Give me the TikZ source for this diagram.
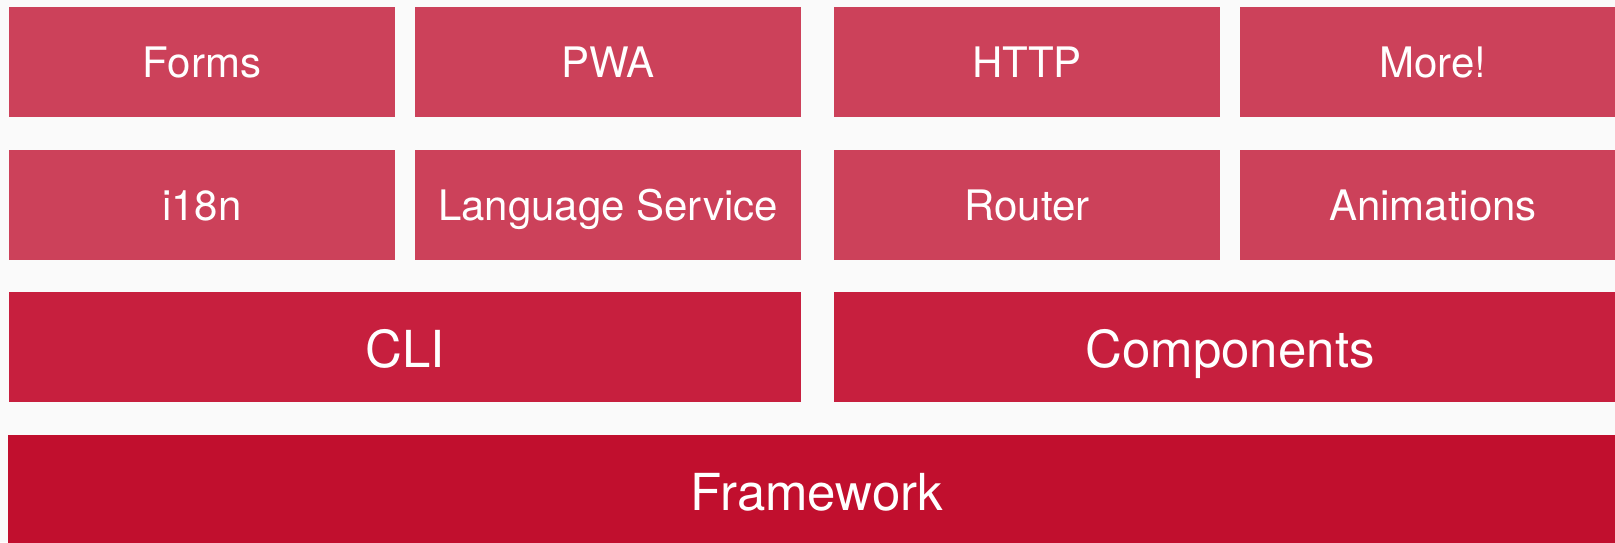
\documentclass[tikz,border=0pt]{standalone}
\usepackage{fontspec}
\setmainfont{TeX Gyre Heros}
\usetikzlibrary{positioning}
\definecolor{pagebg}{HTML}{FAFAFA}
\definecolor{libred}{HTML}{CC415A}
\definecolor{toolred}{HTML}{C71F3E}
\definecolor{corered}{HTML}{C10F2E}
\tikzset{
  layer/.style={inner sep=0pt, outer sep=0pt, text=white, minimum height=110pt},
  libbox/.style={layer, fill=libred, minimum width=386pt, text height=40pt, text depth=10pt,
    font=\fontsize{42}{50}\selectfont},
  toolbox/.style={layer, fill=toolred, minimum width=792pt, text height=50pt, text depth=10pt,
    font=\fontsize{51}{60}\selectfont},
  corebox/.style={layer, fill=corered, minimum width=1618pt, text height=50pt, text depth=10pt,
    font=\fontsize{51}{60}\selectfont},
}

\begin{document}
\begin{tikzpicture}[x=1pt, y=-1pt]
  \fill[pagebg] (0,0) rectangle (1615,542);
  \useasboundingbox (0,0) rectangle (1615,542);
  \clip (0,0) rectangle (1615,542);
  % feature libraries, two rows of four
  \node[libbox, anchor=north west] (forms) at (9,7) {Forms};
  \node[libbox, right=20pt of forms] (pwa) {PWA};
  \node[libbox, right=33pt of pwa] (http) {HTTP};
  \node[libbox, right=20pt of http] (more) {More!};
  \node[libbox, below=33pt of forms] (i18n) {i18n};
  \node[libbox, right=20pt of i18n] (langsvc) {Language Service};
  \node[libbox, right=33pt of langsvc] (router) {Router};
  \node[libbox, right=20pt of router] (anim) {Animations};
  % tooling and components
  \node[toolbox, below=32pt of i18n.south west, anchor=north west] (cli) {CLI};
  \node[toolbox, right=33pt of cli] (comp) {Components};
  % base layer
  \node[corebox, below=33pt of cli.south west, anchor=north west, xshift=-1pt] (fw) {Framework};
\end{tikzpicture}
\end{document}
